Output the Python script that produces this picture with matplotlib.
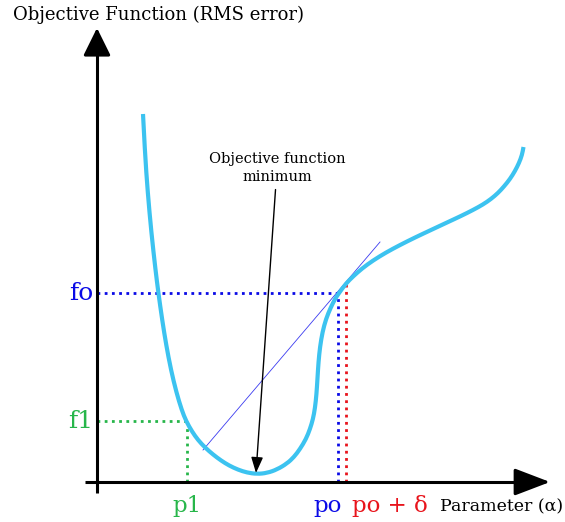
import numpy as np
import matplotlib.pyplot as plt
from matplotlib.path import Path
from matplotlib.patches import PathPatch

plt.rcParams['font.family'] = ['DejaVu Serif']

# objective function sampled along the parameter axis
curve_x = [46, 47.9, 50.7, 54.3, 58.5, 61.4, 65.2, 69.2, 74, 79.3, 84.7, 89.1, 95,
           101, 108, 116, 124, 132, 141, 150, 160, 170, 180, 190, 197, 203, 209, 213,
           216, 218, 219.5, 220.5, 221.5, 223, 225.5, 229, 233.5, 238, 242, 249,
           256, 265, 276, 289, 303, 318, 334, 350, 364, 376, 386, 394, 401, 407,
           413, 418, 422, 425, 426.5]
curve_y = [368, 330, 290, 250, 212, 189, 162, 137, 112, 90, 72, 61, 50.5,
           42, 34.5, 27.5, 21.5, 16.5, 12.3, 9.4, 8, 9, 12.5, 18.5, 25, 33, 43, 53,
           63, 74, 88, 104, 120, 135, 150, 163, 174, 183, 189, 198.5,
           205.5, 213.5, 221.5, 229.5, 237, 244.5, 252, 259.5, 266, 272, 277.5, 283, 289, 295.5,
           303, 311, 319, 327, 335]

# marked points
p1, f1 = 90, 61
p0, f0 = 241, 189
p0_delta, f0_delta = 249, 199

# secant between the minimum side and p0
tangent_x = [106, 283]
tangent_y = [32, 240]

# minimum annotation
min_x, min_y = 159, 9
label_x, label_y = 180, 298

cyan = '#3cc3f0'
blue = '#0a0ae6'
red = '#e8141c'
green = '#27b64a'

fig = plt.figure(figsize=(5.65, 5.22), dpi=100)
ax = fig.add_axes([0, 0, 1, 1])
ax.set_xlim(-97, 468)
ax.set_ylim(-40, 482)
ax.axis('off')

# axes with arrow heads
ax.plot([-12, 430], [0, 0], color='k', lw=2.2, solid_capstyle='butt', zorder=3)
ax.annotate('', xy=(453, 0), xytext=(425, 0),
            arrowprops=dict(arrowstyle='-|>,head_length=1.1,head_width=0.42',
                            mutation_scale=20, color='k', lw=2.2, shrinkA=0, shrinkB=0),
            zorder=3)
ax.plot([0, 0], [-11, 440], color='k', lw=2.2, solid_capstyle='butt', zorder=3)
ax.annotate('', xy=(0, 454), xytext=(0, 430),
            arrowprops=dict(arrowstyle='-|>,head_length=0.85,head_width=0.42',
                            mutation_scale=20, color='k', lw=2.2, shrinkA=0, shrinkB=0),
            zorder=3)

# smooth curve: quadratic segments through midpoints of the samples
pts = np.column_stack([curve_x, curve_y]).astype(float)
verts = [pts[0]]
codes = [Path.MOVETO]
for i in range(1, len(pts) - 1):
    mid = (pts[i] + pts[i + 1]) / 2
    verts += [pts[i], mid]
    codes += [Path.CURVE3, Path.CURVE3]
verts.append(pts[-1])
codes.append(Path.LINETO)
ax.add_patch(PathPatch(Path(verts, codes), fill=False, edgecolor=cyan, lw=3,
                       capstyle='butt', joinstyle='round', zorder=2))

dots = dict(lw=2.0, dashes=(1, 1.6), dash_capstyle='butt', zorder=1)
ax.plot([0, p0], [f0, f0], color=blue, **dots)
ax.plot([p0, p0], [0, f0], color=blue, **dots)
ax.plot([p0_delta, p0_delta], [0, f0_delta], color=red, **dots)
ax.plot([0, p1], [f1, f1], color=green, **dots)
ax.plot([p1, p1], [0, f1], color=green, **dots)

ax.plot(tangent_x, tangent_y, color='#3a3af0', lw=0.6, zorder=1)

ax.annotate('Objective function\nminimum', xy=(min_x, min_y), xytext=(label_x, label_y),
            ha='center', va='bottom', fontsize=10.5, linespacing=1.35,
            arrowprops=dict(arrowstyle='-|>,head_length=0.8,head_width=0.3',
                            mutation_scale=12, color='k', lw=1.0, shrinkA=2, shrinkB=0),
            zorder=4)

ax.text(-84, 467, 'Objective Function (RMS error)', fontsize=13, ha='left', va='center')
ax.text(466, -25, 'Parameter (\u03b1)', fontsize=12.5, ha='right', va='center')

ax.text(-4, f0, 'fo', color=blue, fontsize=18, ha='right', va='center')
ax.text(-4, f1, 'f1', color=green, fontsize=18, ha='right', va='center')
ax.text(p1, -24, 'p1', color=green, fontsize=16.5, ha='center', va='center')
ax.text(p0 - 10, -24, 'po', color=blue, fontsize=16.5, ha='center', va='center')
ax.text(p0_delta + 6, -24, 'po + \u03b4', color=red, fontsize=16.5, ha='left', va='center')

fig.savefig('out.png', dpi=100)
